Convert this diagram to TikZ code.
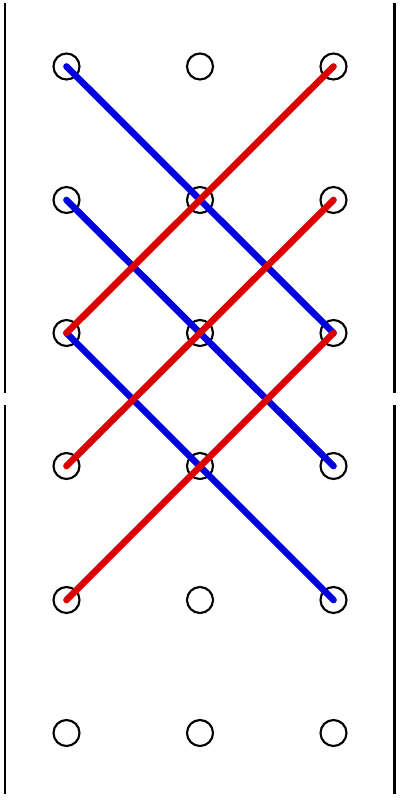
\documentclass[tikz,border=0pt]{standalone}
\definecolor{myblue}{RGB}{0,0,220}
\definecolor{myred}{RGB}{220,0,0}
\begin{document}
\begin{tikzpicture}[x=0.75pt,y=-0.75pt,
  peg/.style={circle,draw=black,line width=1.6pt,minimum size=19.5pt,inner sep=0pt},
  bar/.style={line width=2.2pt,black},
  bluel/.style={myblue,line width=5pt,line cap=round},
  redl/.style={myred,line width=5pt,line cap=round}]
\useasboundingbox (0,0) rectangle (400,800);
\foreach \c/\x in {1/66.5,2/200,3/333.5}{
  \foreach \r/\y in {1/66.5,2/200,3/333,4/466,5/600,6/733}{
    \node[peg] (p\c\r) at (\x,\y) {};
  }
}
\coordinate (l1) at (5,3); \coordinate (l2) at (5,393);
\coordinate (l3) at (5,405); \coordinate (l4) at (5,794);
\coordinate (r1) at (394.5,3); \coordinate (r2) at (394.5,393);
\coordinate (r3) at (394.5,405); \coordinate (r4) at (394.5,794);
\draw[bar] (l1) -- (l2); \draw[bar] (l3) -- (l4);
\draw[bar] (r1) -- (r2); \draw[bar] (r3) -- (r4);
\draw[bluel] (p11.center) -- (p33.center);
\draw[bluel] (p12.center) -- (p34.center);
\draw[bluel] (p13.center) -- (p35.center);
\draw[redl] (p13.center) -- (p31.center);
\draw[redl] (p14.center) -- (p32.center);
\draw[redl] (p15.center) -- (p33.center);
\end{tikzpicture}
\end{document}
